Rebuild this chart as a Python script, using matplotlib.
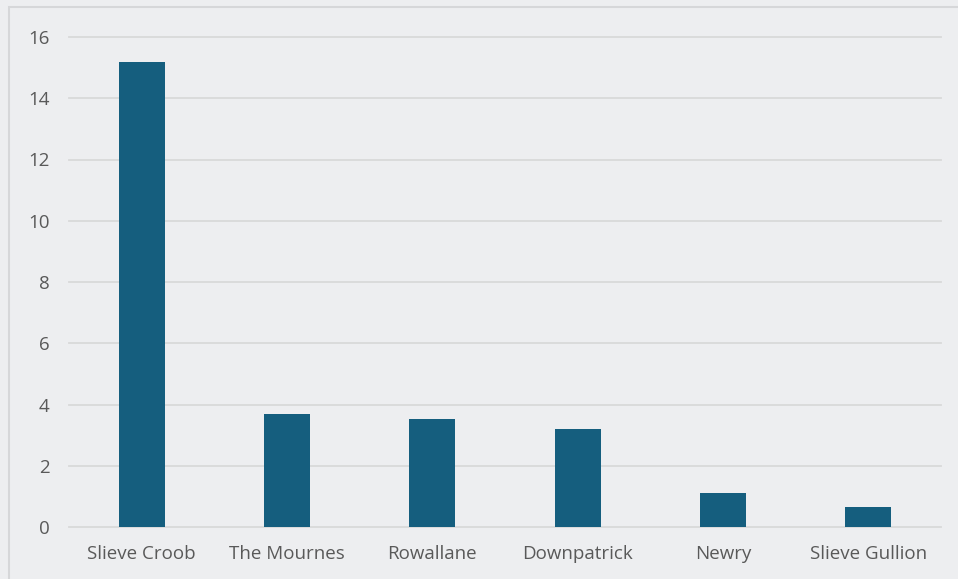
import matplotlib
matplotlib.use("Agg")
import matplotlib.pyplot as plt
from matplotlib.patches import Rectangle

categories = ["Slieve Croob", "The Mournes", "Rowallane", "Downpatrick", "Newry", "Slieve Gullion"]
values = [15.2, 3.68, 3.52, 3.2, 1.11, 0.64]
yticks = [0, 2, 4, 6, 8, 10, 12, 14, 16]

W, H = 958, 579
bg = "#EDEEF0"
bar_color = "#155E7E"
grid_color = "#D9D9D9"
text_color = "#595959"

plt.rcParams['font.family'] = ['Open Sans', 'DejaVu Sans']

fig = plt.figure(figsize=(W / 100, H / 100), dpi=100)
fig.patch.set_facecolor(bg)

# outer border (partially cropped on right/bottom)
fig.patches.append(Rectangle((9 / W, -0.05), 1.2, (H - 7) / H + 0.05, transform=fig.transFigure,
                             fill=False, edgecolor="#D6D7D9", linewidth=1.5, zorder=0))

ax = fig.add_axes([69 / W, (H - 527) / H, (941 - 69) / W, (527 - 37) / H])
ax.set_facecolor(bg)
x = list(range(len(categories)))
ax.bar(x, values, width=0.317, color=bar_color, zorder=3)
ax.set_xlim(-0.5, len(categories) - 0.5)
ax.set_ylim(0, 16)
ax.set_yticks(yticks)
ax.set_yticklabels([str(t) for t in yticks])
ax.set_xticks(x)
ax.set_xticklabels(categories)
ax.grid(axis="y", color=grid_color, linewidth=1.3, zorder=0)
for gl in ax.get_ygridlines():
    gl.set_clip_on(False)
ax.set_axisbelow(True)
for s in ax.spines.values():
    s.set_visible(False)
ax.tick_params(axis="both", length=0, colors=text_color, labelsize=13.5)
ax.tick_params(axis="y", pad=14)
ax.tick_params(axis="x", pad=13)

fig.savefig("out.png", dpi=100, facecolor=bg)
